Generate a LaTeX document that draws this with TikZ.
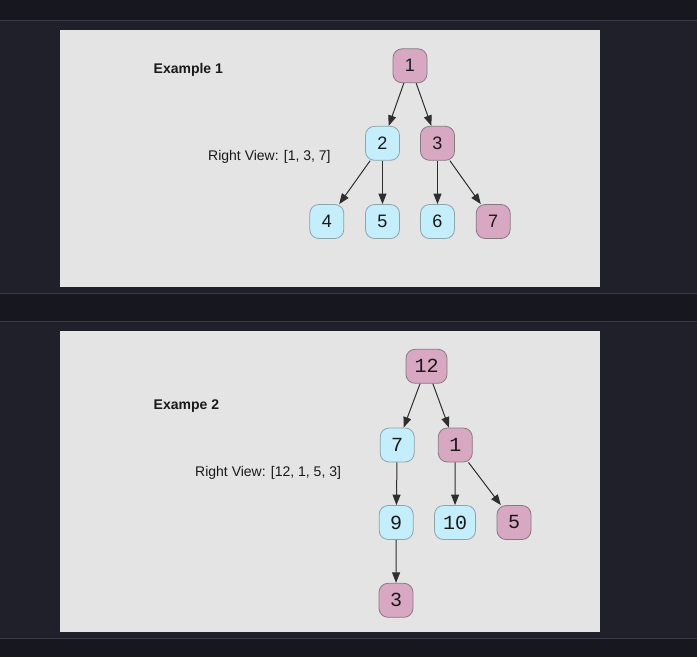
\documentclass[tikz,border=0pt]{standalone}
\usepackage{fontspec}
\setmainfont{Liberation Sans}
\newfontfamily\treemono{Liberation Mono}
\usetikzlibrary{arrows.meta,positioning}
\definecolor{pagedark}{HTML}{16171F}
\definecolor{bandgray}{HTML}{1F2029}
\definecolor{sepline}{HTML}{3A3B44}
\definecolor{panelgray}{HTML}{E4E4E4}
\definecolor{nodepink}{HTML}{D8A7C1}
\definecolor{pinkline}{HTML}{857A80}
\definecolor{nodeblue}{HTML}{C4EEFC}
\definecolor{blueline}{HTML}{8CA4AA}
\definecolor{edgegray}{HTML}{2E2E2E}

\begin{document}
\begin{tikzpicture}[x=1pt, y=-1pt,
    treenode/.style={draw, rounded corners=9pt, minimum width=34pt, minimum height=34pt, inner xsep=8.5pt, line width=0.8pt, text=black!90, font=\fontsize{18}{18}\selectfont},
    pinknode/.style={treenode, fill=nodepink, draw=pinkline},
    bluenode/.style={treenode, fill=nodeblue, draw=blueline},
    monotext/.style={font=\treemono\fontsize{20}{20}\selectfont},
    edge/.style={-{Triangle[length=10.5pt,width=8pt]}, line width=1pt, draw=edgegray},
    caption/.style={anchor=base west, inner sep=0pt, text=black!90, font=\fontsize{14}{16}\selectfont}]
    \useasboundingbox (0,0) rectangle (697,657);
    \fill[pagedark] (0,0) rectangle (697,657);
    \fill[bandgray] (0,20.3) rectangle (697,293.3);
    \fill[bandgray] (0,321.3) rectangle (697,638.7);
    \draw[sepline, line width=1pt] (0,20.3) -- (697,20.3) (0,293.3) -- (697,293.3)
        (0,321.3) -- (697,321.3) (0,638.7) -- (697,638.7);
    \fill[panelgray] (60,30) rectangle (600,286.7);
    \fill[panelgray] (60,331) rectangle (600,632);

    \node[caption, font=\bfseries\fontsize{14}{16}\selectfont] (title1) at (153.5,73.5) {Example 1};
    \node[caption] (view1) at (208,160.5) {Right View: [1, 3, 7]};

    \node[pinknode] (a1) at (410,65.8) {1};
    \node[bluenode] (a2) at (382.5,143.3) {2};
    \node[pinknode] (a3) at (437.5,143.3) {3};
    \node[bluenode] (a4) at (326.8,221.5) {4};
    \node[bluenode] (a5) at (382.5,221.5) {5};
    \node[bluenode] (a6) at (437.5,221.5) {6};
    \node[pinknode] (a7) at (493.2,221.5) {7};

    \draw[edge] (a1) -- (a2);
    \draw[edge] (a1) -- (a3);
    \draw[edge] (a2) -- (a4);
    \draw[edge] (a2) -- (a5);
    \draw[edge] (a3) -- (a6);
    \draw[edge] (a3) -- (a7);

    \node[caption, font=\bfseries\fontsize{14}{16}\selectfont] (title2) at (153.5,409.3) {Exampe 2};
    \node[caption] (view2) at (195,476.7) {Right View: [12, 1, 5, 3]};

    \node[pinknode, monotext] (b12) at (426.5,366.3) {12};
    \node[bluenode, monotext] (b7) at (397.2,445) {7};
    \node[pinknode, monotext] (b1) at (455.3,445) {1};
    \node[bluenode, monotext] (b9) at (396.2,522.5) {9};
    \node[bluenode, monotext] (b10) at (455,522.5) {10};
    \node[pinknode, monotext] (b5) at (514,522.5) {5};
    \node[pinknode, monotext] (b3) at (396,600.3) {3};

    \draw[edge] (b12) -- (b7);
    \draw[edge] (b12) -- (b1);
    \draw[edge] (b7) -- (b9);
    \draw[edge] (b1) -- (b10);
    \draw[edge] (b1) -- (b5);
    \draw[edge] (b9) -- (b3);
\end{tikzpicture}
\end{document}
